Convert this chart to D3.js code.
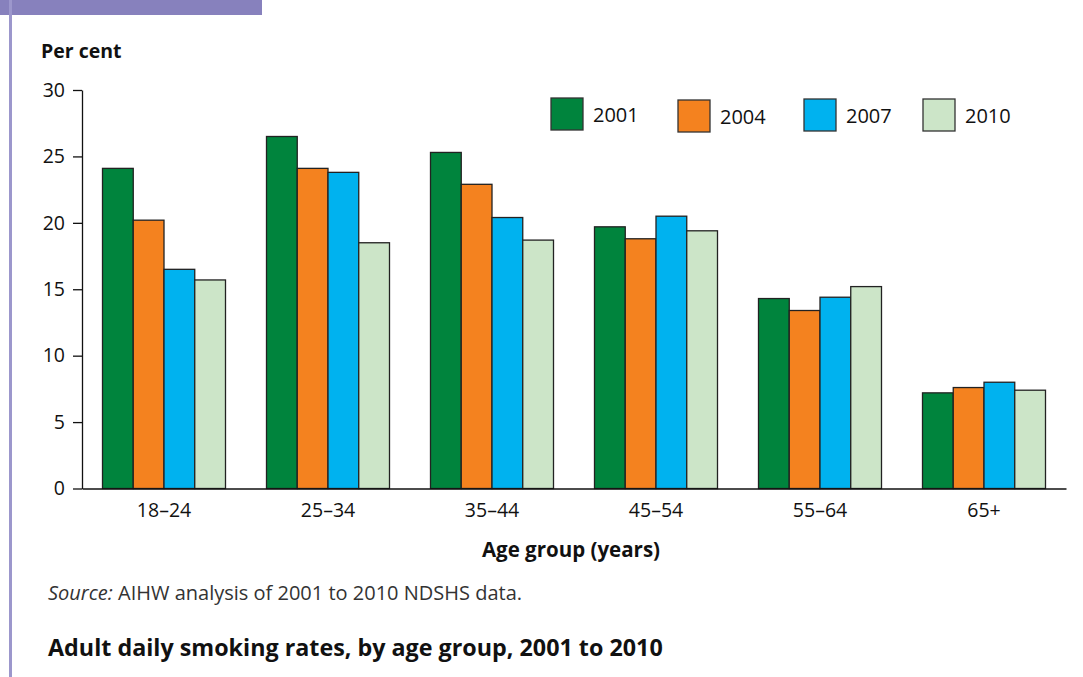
<!DOCTYPE html>
<html>
<head>
<meta charset="utf-8">
<script src="https://cdn.jsdelivr.net/npm/d3@7"></script>
<style>
  body { margin: 0; background: #fff; }
  svg { font-family: "Open Sans", "Noto Sans", sans-serif; }
</style>
</head>
<body>
<div id="chart"></div>
<script>
// Chart data
const ageGroups = ["18–24", "25–34", "35–44", "45–54", "55–64", "65+"];
const years = ["2001", "2004", "2007", "2010"];
const rates2001 = [24.1, 26.5, 25.3, 19.7, 14.3, 7.2];
const rates2004 = [20.2, 24.1, 22.9, 18.8, 13.4, 7.6];
const rates2007 = [16.5, 23.8, 20.4, 20.5, 14.4, 8.0];
const rates2010 = [15.7, 18.5, 18.7, 19.4, 15.2, 7.4];
const yTicks = [0, 5, 10, 15, 20, 25, 30];

const series = [rates2001, rates2004, rates2007, rates2010];
const colors = ["#00843d", "#f4821f", "#00b2ef", "#cce5c8"];

const width = 1083;
const height = 677;
const margin = { top: 90, left: 82, bottom: 188, right: 17 };

const svg = d3.select("#chart")
    .append("svg")
    .attr("width", width)
    .attr("height", height);

// Purple frame pieces
svg.append("rect").attr("x", 0).attr("y", 0).attr("width", 262).attr("height", 15).attr("fill", "#8781bd");
svg.append("rect").attr("x", 9).attr("y", 0).attr("width", 3).attr("height", height).attr("fill", "#9c97cc");

// Scales
const x0 = d3.scaleBand()
    .domain(ageGroups)
    .range([margin.left, width - margin.right])
    .paddingInner(0.25)
    .paddingOuter(0.125);

const x1 = d3.scaleBand()
    .domain(years)
    .range([0, x0.bandwidth()]);

const y = d3.scaleLinear()
    .domain([0, 30])
    .range([height - margin.bottom - 0.5, margin.top]);

// Bars
const groups = svg.selectAll("g.group")
    .data(ageGroups)
    .enter()
    .append("g")
    .attr("class", "group")
    .attr("transform", d => `translate(${x0(d)},0)`);

groups.selectAll("rect")
    .data((d, i) => years.map((yr, j) => ({ year: yr, value: series[j][i], idx: j })))
    .enter()
    .append("rect")
    .attr("x", d => x1(d.year))
    .attr("y", d => y(d.value))
    .attr("width", x1.bandwidth())
    .attr("height", d => y(0) - y(d.value))
    .attr("fill", d => colors[d.idx])
    .attr("stroke", "#222")
    .attr("stroke-width", 1.3);

// Y axis
const yAxis = svg.append("g")
    .attr("transform", `translate(${margin.left},0)`)
    .call(d3.axisLeft(y).tickValues(yTicks).tickSize(9).tickSizeOuter(0).tickPadding(8));
yAxis.attr("font-family", "inherit").attr("font-size", 19.5);
yAxis.select(".domain").attr("stroke", "#111").attr("stroke-width", 1.3);
yAxis.selectAll(".tick line").attr("stroke", "#111").attr("stroke-width", 1.3);
yAxis.selectAll(".tick text").attr("fill", "#111");

// X axis
const xAxis = svg.append("g")
    .attr("transform", `translate(0,${y(0)})`)
    .call(d3.axisBottom(x0).tickSize(0).tickSizeOuter(0).tickPadding(15));
xAxis.attr("font-family", "inherit").attr("font-size", 19.5);
xAxis.select(".domain").attr("stroke", "#111").attr("stroke-width", 1.5);
xAxis.selectAll(".tick text").attr("fill", "#111");

// Axis titles
svg.append("text").attr("x", 41).attr("y", 58)
    .attr("font-size", 19.5).attr("font-weight", "bold").attr("fill", "#111")
    .text("Per cent");

svg.append("text").attr("x", 571).attr("y", 557)
    .attr("text-anchor", "middle")
    .attr("font-size", 20.5).attr("font-weight", "bold").attr("fill", "#111")
    .text("Age group (years)");

// Legend
const legendX = [551, 678, 804, 923];
const legendDy = [0, 2, 1, 1];
const legend = svg.selectAll("g.legend")
    .data(years)
    .enter()
    .append("g")
    .attr("class", "legend")
    .attr("transform", (d, i) => `translate(${legendX[i]},${98 + legendDy[i]})`);

legend.append("rect")
    .attr("width", 32).attr("height", 32)
    .attr("fill", (d, i) => colors[i])
    .attr("stroke", "#333").attr("stroke-width", 1.3);

legend.append("text")
    .attr("x", 42).attr("y", 24)
    .attr("font-size", 20).attr("fill", "#111")
    .text(d => d);

// Source note
const src = svg.append("text").attr("x", 48).attr("y", 600)
    .attr("font-size", 20).attr("fill", "#333");
src.append("tspan").attr("font-style", "italic").text("Source:");
src.append("tspan").text(" AIHW analysis of 2001 to 2010 NDSHS data.");

// Title
svg.append("text").attr("x", 48).attr("y", 656)
    .attr("font-size", 23.3).attr("font-weight", "bold").attr("fill", "#111")
    .text("Adult daily smoking rates, by age group, 2001 to 2010");
</script>
</body>
</html>
